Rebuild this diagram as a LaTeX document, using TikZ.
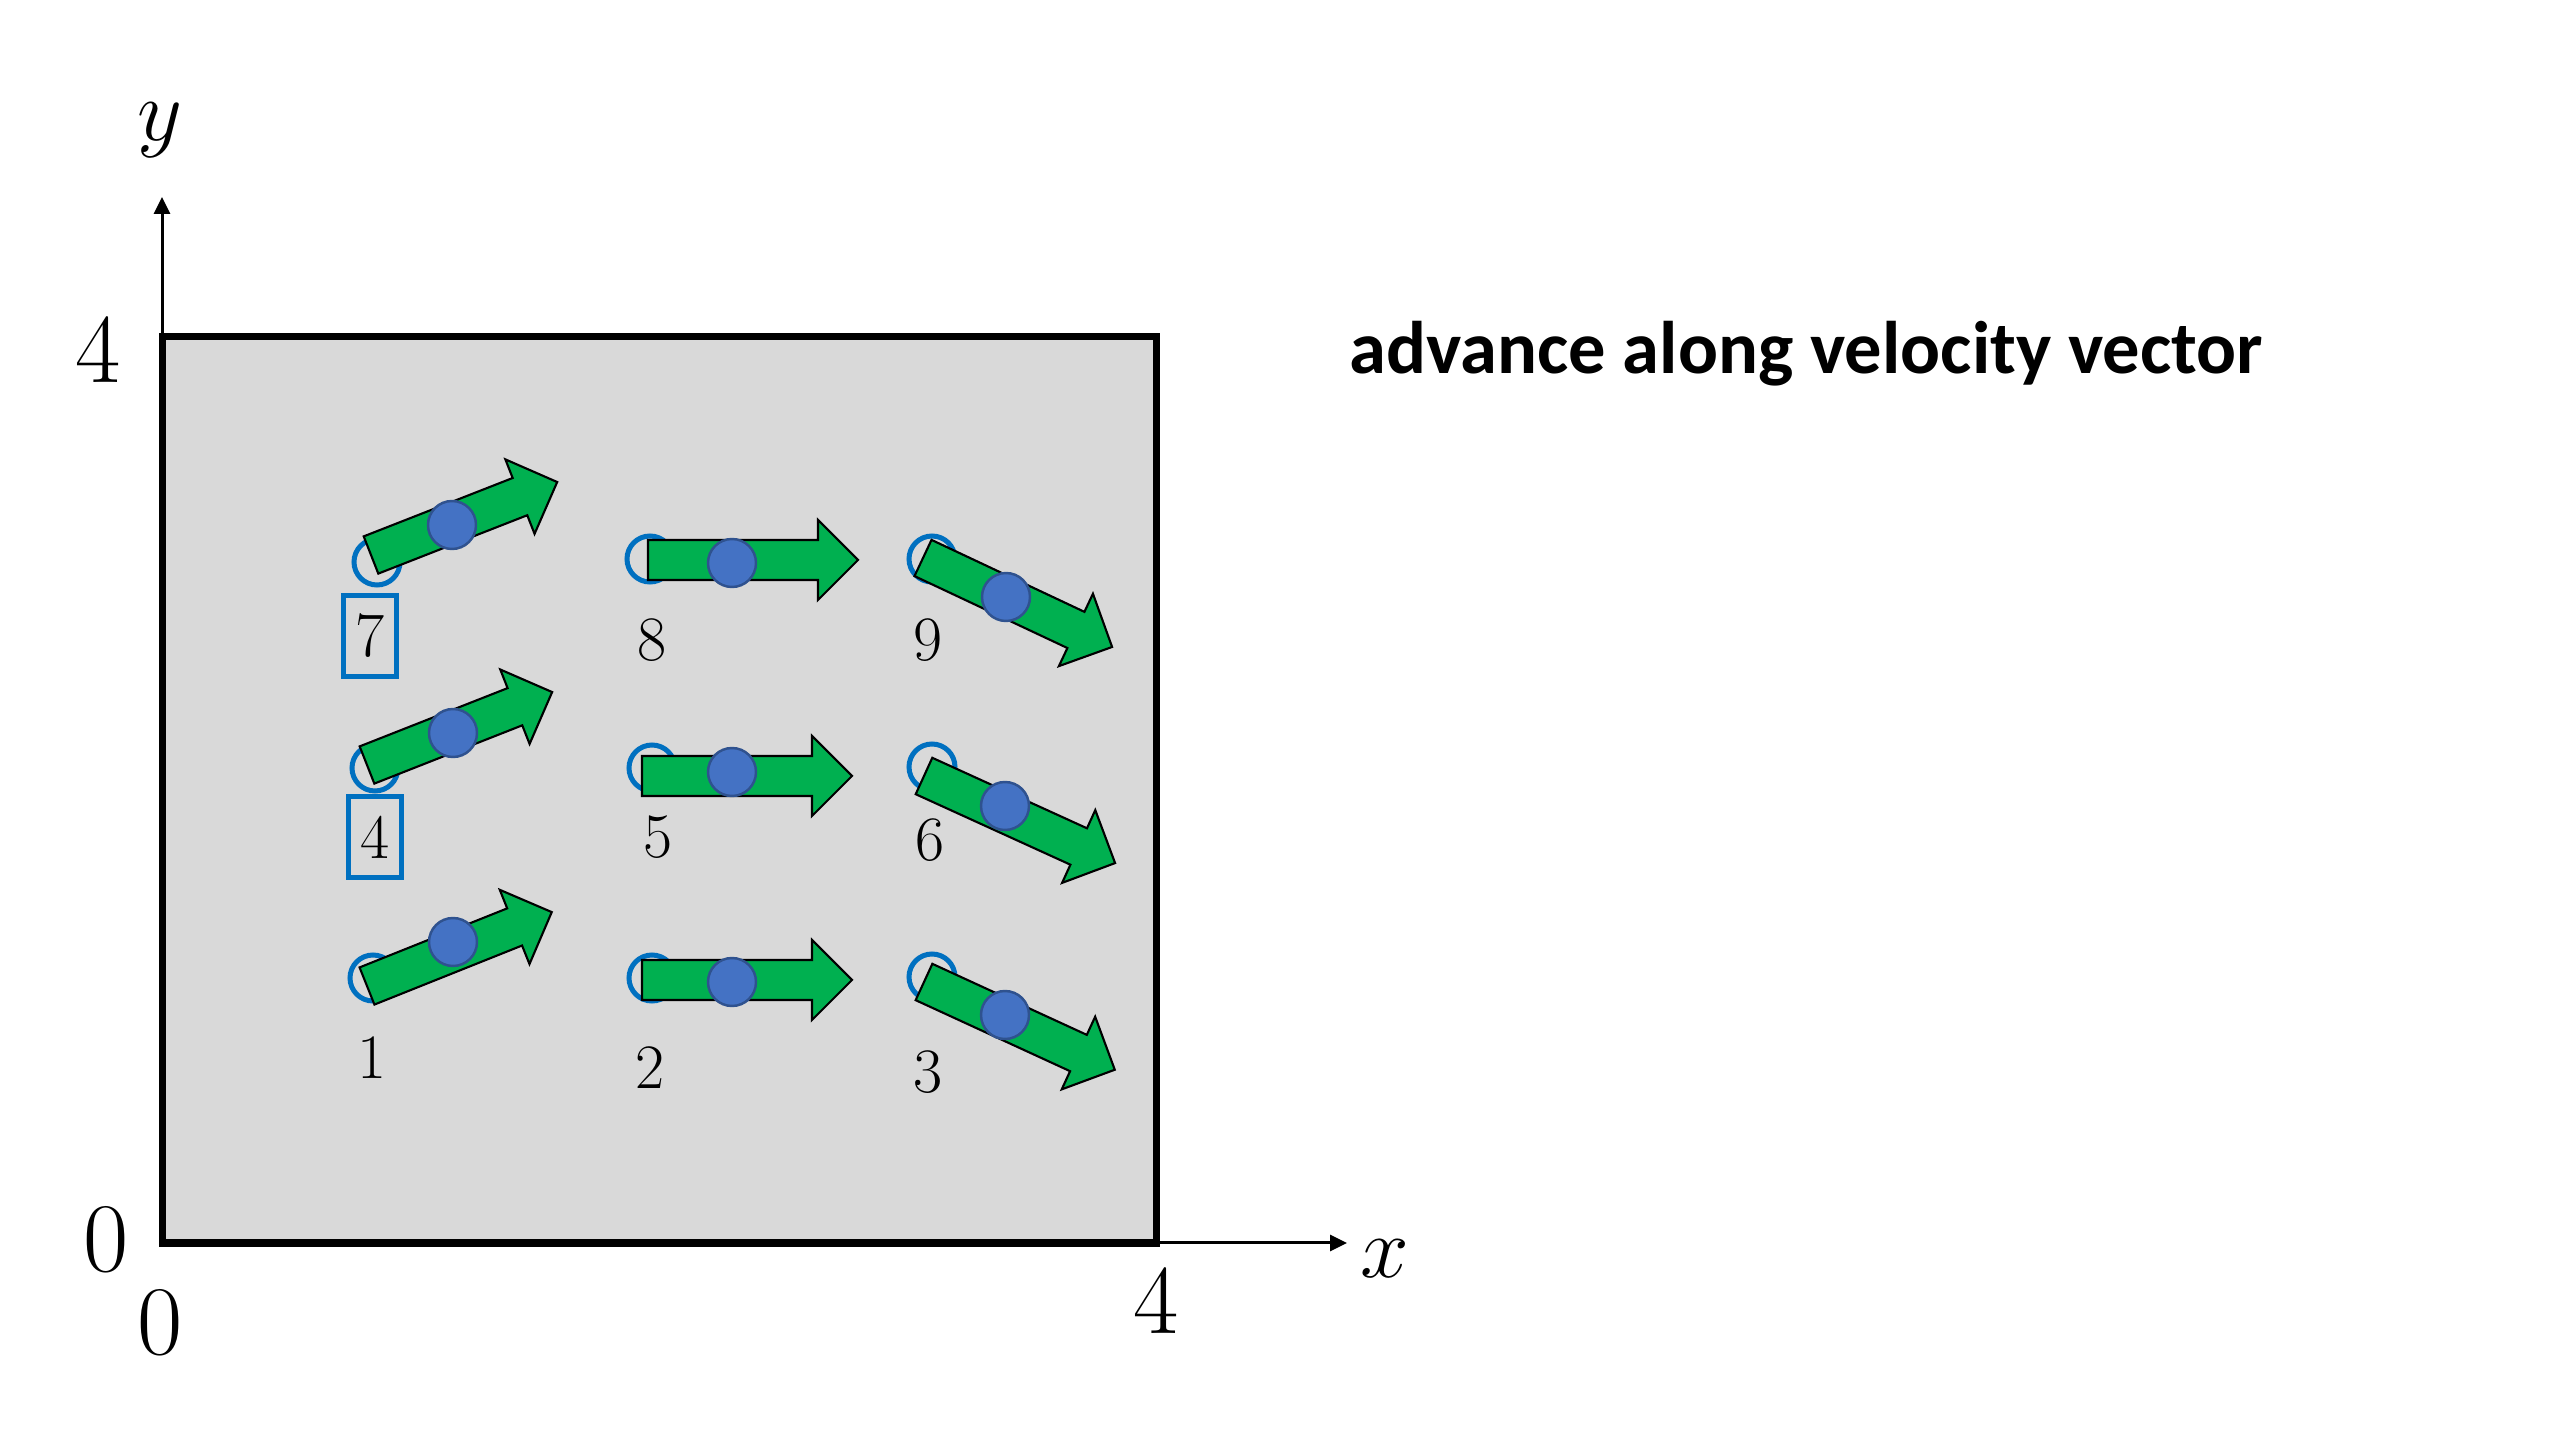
\documentclass[tikz,border=0pt]{standalone}
\usepackage{fontspec}
\newfontfamily\calibri{Carlito}
\usetikzlibrary{arrows.meta}
\definecolor{boxgray}{HTML}{D9D9D9}
\definecolor{vgreen}{HTML}{00B050}
\definecolor{dotblue}{HTML}{4472C4}
\definecolor{dotedge}{HTML}{2F528F}
\definecolor{ringblue}{HTML}{0070C0}
\tikzset{
  garrow/.style={fill=vgreen, draw=black, line width=0.6pt, line join=miter},
  ring/.style={circle, draw=ringblue, line width=0.05cm, minimum size=0.46cm, inner sep=0pt},
  pdot/.style={circle, fill=dotblue, draw=dotedge, line width=0.7pt, minimum size=0.48cm, inner sep=0pt},
  numlab/.style={font=\fontsize{18}{20}\selectfont, inner sep=0pt},
  numbox/.style={numlab, draw=ringblue, line width=0.05cm, minimum width=0.53cm, minimum height=0.81cm},
  axlab/.style={font=\fontsize{28}{30}\selectfont, inner sep=0pt, anchor=base},
  varlab/.style={font=\fontsize{30}{32}\selectfont, inner sep=0pt, anchor=base},
  axis/.style={line width=0.03cm, -{Triangle[length=0.17cm,width=0.16cm]}}
}
\newcommand\garrowat[3]{\draw[garrow, shift={(#1)}, rotate=#2] (0,-0.2) -- (#3-0.4,-0.2) -- (#3-0.4,-0.4) -- (#3,0) -- (#3-0.4,0.4) -- (#3-0.4,0.2) -- (0,0.2) -- cycle;}
\begin{document}
\begin{tikzpicture}
\useasboundingbox[fill=white] (0,0) rectangle (25.6,14.4);
% domain
\coordinate (o) at (1.62,1.97);
\coordinate (ur) at (11.56,11.03);
\coordinate (ytip) at (1.62,12.43);
\coordinate (xtip) at (13.47,1.97);
\fill[boxgray] (o) rectangle (ur);
\draw[axis] (o) -- (ytip);
\draw[axis] (o) -- (xtip);
\draw[line width=0.07cm] (o) rectangle (ur);
% rings (initial positions)
\node[ring] (c7) at (3.77,8.78) {};
\node[ring] (c4) at (3.75,6.72) {};
\node[ring] (c1) at (3.73,4.62) {};
\node[ring] (c8) at (6.50,8.81) {};
\node[ring] (c5) at (6.52,6.72) {};
\node[ring] (c2) at (6.52,4.62) {};
\node[ring] (c9) at (9.32,8.81) {};
\node[ring] (c6) at (9.32,6.73) {};
\node[ring] (c3) at (9.32,4.63) {};
% arrow tails
\coordinate (a7) at (3.71,8.85);
\coordinate (a4) at (3.67,6.75);
\coordinate (a1) at (3.67,4.54);
\coordinate (a8) at (6.48,8.80);
\coordinate (a5) at (6.42,6.64);
\coordinate (a2) at (6.42,4.60);
\coordinate (a9) at (9.23,8.82);
\coordinate (a6) at (9.24,6.64);
\coordinate (a3) at (9.24,4.58);
\garrowat{a7}{21.4}{2.0}
\garrowat{a4}{21.5}{1.99}
\garrowat{a1}{21.8}{1.99}
\garrowat{a8}{0}{2.1}
\garrowat{a5}{0}{2.1}
\garrowat{a2}{0}{2.1}
\garrowat{a9}{-25.2}{2.09}
\garrowat{a6}{-24.5}{2.1}
\garrowat{a3}{-24.7}{2.1}
% advanced positions
\node[pdot] (d7) at (4.52,9.15) {};
\node[pdot] (d4) at (4.53,7.07) {};
\node[pdot] (d1) at (4.53,4.98) {};
\node[pdot] (d8) at (7.32,8.77) {};
\node[pdot] (d5) at (7.32,6.68) {};
\node[pdot] (d2) at (7.32,4.58) {};
\node[pdot] (d9) at (10.06,8.43) {};
\node[pdot] (d6) at (10.05,6.34) {};
\node[pdot] (d3) at (10.05,4.25) {};
% labels
\node[numbox] (n7) at (3.70,8.04) {7};
\node[numlab] (n8) at (6.52,8.00) {8};
\node[numlab] (n9) at (9.28,8.00) {9};
\node[numbox] (n4) at (3.75,6.03) {4};
\node[numlab] (n5) at (6.58,6.03) {5};
\node[numlab] (n6) at (9.30,6.00) {6};
\node[numlab] (n1) at (3.72,3.82) {1};
\node[numlab] (n2) at (6.50,3.72) {2};
\node[numlab] (n3) at (9.28,3.68) {3};
% axis labels
\node[varlab] (ylab) at (1.60,12.99) {$y$};
\node[varlab] (xlab) at (13.85,1.63) {$x$};
\node[axlab] (y4) at (0.98,10.57) {4};
\node[axlab] (y0) at (1.06,1.69) {0};
\node[axlab] (x0) at (1.60,0.86) {0};
\node[axlab] (x4) at (11.56,1.06) {4};
% title
\node[anchor=base west, inner sep=0pt, font=\calibri\bfseries\fontsize{21.2}{25}\selectfont] (title) at (13.49,10.66) {advance along velocity vector};
\end{tikzpicture}
\end{document}
